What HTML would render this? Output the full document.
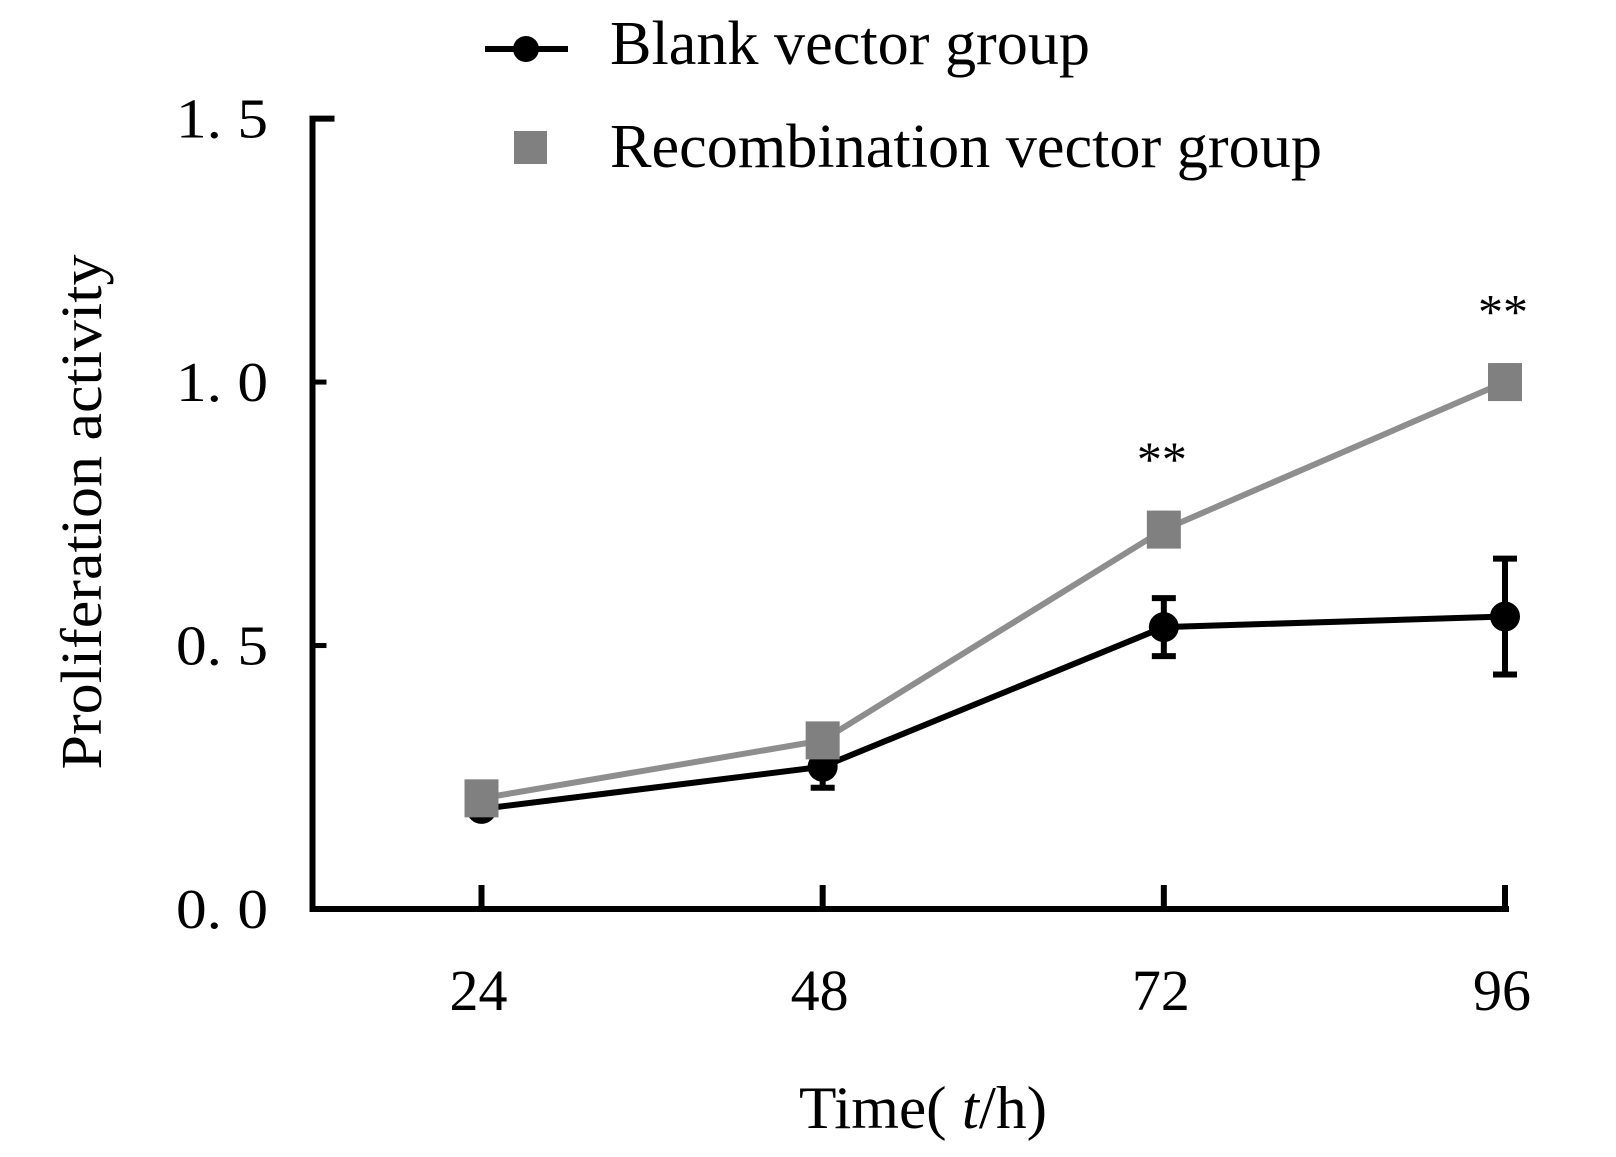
<!DOCTYPE html>
<html><head><meta charset="utf-8"><style>html,body{margin:0;padding:0;background:#fff}svg{display:block}text{font-family:"Liberation Serif",serif;fill:#000}</style></head>
<body>
<svg id="chart" width="1616" height="1157" viewBox="0 0 1616 1157" xmlns="http://www.w3.org/2000/svg">
<g id="axes"></g>
<g id="series"></g>
<g>
  <line x1="485" y1="49" x2="568" y2="49" stroke="#000" stroke-width="6"/>
  <circle cx="526" cy="49" r="13" fill="#000"/>
  <text x="610" y="64" font-size="62" textLength="480" lengthAdjust="spacingAndGlyphs">Blank vector group</text>
  <rect x="514" y="131" width="33" height="33" fill="#808080"/>
  <text x="610" y="167" font-size="62" textLength="712" lengthAdjust="spacingAndGlyphs">Recombination vector group</text>
</g>
<text x="923" y="1128" font-size="60" text-anchor="middle" textLength="248" lengthAdjust="spacingAndGlyphs">Time( <tspan font-style="italic">t</tspan>/h)</text>
<text transform="translate(101,512) rotate(-90)" font-size="58" text-anchor="middle" textLength="515" lengthAdjust="spacingAndGlyphs">Proliferation activity</text>
</svg>
<script>
const categories = ["24","48","72","96"];
const blankValues = [0.19, 0.27, 0.535, 0.555];
const blankErrors = [0.012, 0.04, 0.055, 0.11];
const recombValues = [0.21, 0.32, 0.72, 1.0];
const recombErrors = [0.02, 0.02, 0.03, 0.03];
const yTicks = [0, 0.5, 1.0, 1.5];
const yTickLabels = ["0. 0","0. 5","1. 0","1. 5"];
const sigLabels = ["", "", "**", "**"];

const NS = "http://www.w3.org/2000/svg";
const X0 = 481.5, X3 = 1505, Y0 = 909, Y15 = 118.6, AX = 312.5;
function xScale(i){ return X0 + i * (X3 - X0) / 3; }
function yScale(v){ return Y0 - v * (Y0 - Y15) / 1.5; }
function mk(tag, attrs, parent){ const e=document.createElementNS(NS,tag); for(const k in attrs) e.setAttribute(k,attrs[k]); parent.appendChild(e); return e; }
const axes=document.getElementById('axes'), series=document.getElementById('series');

let el = mk('path',{d:`M${AX} ${yScale(1.5)} H${AX+22} M${AX} ${yScale(1.5)-3} V${yScale(0)} H${X3+4}`,stroke:'#000','stroke-width':6,fill:'none'},axes);


yTicks.forEach((v,i)=>{
  const t=mk('line',{x1:AX,x2:AX+14,y1:yScale(v),y2:yScale(v),stroke:'#000','stroke-width':5},axes);
  
  
  const l=mk('text',{x:268,y:yScale(v)+19,'font-size':56,'text-anchor':'end',textLength:92,lengthAdjust:'spacingAndGlyphs'},axes);
  l.textContent=yTickLabels[i];
  
  
});
categories.forEach((c,i)=>{
  const t=mk('line',{x1:xScale(i),x2:xScale(i),y1:yScale(0),y2:yScale(0)-24,stroke:'#000','stroke-width':6},axes);
  
  
  const l=mk('text',{x:xScale(i)-3,y:1010,'font-size':58,'text-anchor':'middle'},axes);
  l.textContent=c;
  
  
});

function drawErr(vals,errs,color,name){
  vals.forEach((v,i)=>{
    const x=xScale(i), y1=yScale(v+errs[i]), y2=yScale(v-errs[i]);
    const p=mk('path',{d:`M${x} ${y1} V${y2} M${x-12} ${y1} H${x+12} M${x-12} ${y2} H${x+12}`,stroke:color,'stroke-width':6,fill:'none'},series);
    
    
  });
}
drawErr(recombValues,recombErrors,'#8a8a8a','recomb');
drawErr(blankValues,blankErrors,'#000','blank');
let bl=mk('polyline',{points:blankValues.map((v,i)=>xScale(i)+','+yScale(v)).join(' '),stroke:'#000','stroke-width':6,fill:'none'},series);


blankValues.forEach((v,i)=>{
  const c=mk('circle',{cx:xScale(i),cy:yScale(v),r:15,fill:'#000'},series);
  
  
});
let rl=mk('polyline',{points:recombValues.map((v,i)=>xScale(i)+','+yScale(v)).join(' '),stroke:'#8e8e8e','stroke-width':6,fill:'none'},series);


recombValues.forEach((v,i)=>{
  const r=mk('rect',{x:xScale(i)-17,y:yScale(v)-19,width:34,height:38,fill:'#808080'},series);
  
  
  if(sigLabels[i]){
    const s=mk('text',{x:xScale(i)-2,y:yScale(v+recombErrors[i])-38,'font-size':50,'text-anchor':'middle'},series);
    s.textContent=sigLabels[i];
    
    
  }
});
</script>
</body></html>
